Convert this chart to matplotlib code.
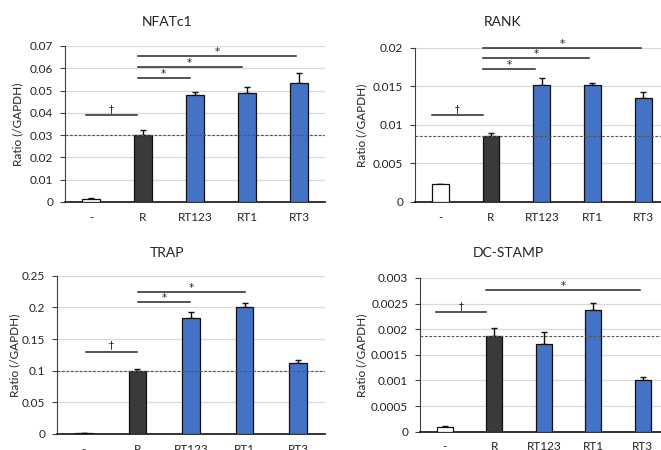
import matplotlib
matplotlib.use("Agg")
import matplotlib.pyplot as plt
from matplotlib.ticker import FuncFormatter, MultipleLocator
from matplotlib.transforms import offset_copy

plt.rcParams['font.family'] = ['Lato', 'DejaVu Sans']

categories = ['-', 'R', 'RT123', 'RT1', 'RT3']
bar_colors = ['#ffffff', '#3a3a3a', '#4472c4', '#4472c4', '#4472c4']

titles = ['NFATc1', 'RANK', 'TRAP', 'DC-STAMP']

nfatc1_vals = [0.0015, 0.0302, 0.0482, 0.0490, 0.0535]
nfatc1_errs = [0.0002, 0.0020, 0.0010, 0.0027, 0.0045]
rank_vals = [0.00228, 0.00855, 0.01522, 0.01512, 0.01350]
rank_errs = [0.00010, 0.00035, 0.00080, 0.00035, 0.00070]
trap_vals = [0.0012, 0.1002, 0.1830, 0.2010, 0.1125]
trap_errs = [0.0005, 0.0025, 0.0090, 0.0060, 0.0045]
dcstamp_vals = [0.00010, 0.00187, 0.00171, 0.00237, 0.00101]
dcstamp_errs = [0.00001, 0.00016, 0.00024, 0.00014, 0.00006]

values = [nfatc1_vals, rank_vals, trap_vals, dcstamp_vals]
errors = [nfatc1_errs, rank_errs, trap_errs, dcstamp_errs]
ymax = [0.07, 0.02, 0.25, 0.003]
ystep = [0.01, 0.005, 0.05, 0.0005]
# reference (dashed) level = R group mean
ref_index = 1

# significance brackets: (x start, x end, y, label)
brackets = [
    [(-0.10, 0.88, 0.0390, '†'), (0.90, 1.90, 0.0555, '*'), (0.90, 2.90, 0.0605, '*'), (0.90, 3.94, 0.0655, '*')],
    [(-0.17, 0.84, 0.0113, '†'), (0.84, 1.87, 0.01724, '*'), (0.84, 2.93, 0.01862, '*'), (0.84, 3.96, 0.0200, '*')],
    [(0.04, 0.99, 0.130, '†'), (1.01, 1.98, 0.208, '*'), (1.01, 3.00, 0.2247, '*')],
    [(-0.18, 0.84, 0.002335, '†'), (0.84, 3.94, 0.00276, '*')],
]

W, H = 661, 450
fig = plt.figure(figsize=(W / 100, H / 100), dpi=100)

# axes rects in pixels: left, top, width, height
rects = [(65, 46, 260, 156), (415, 47.7, 253.5, 154.3), (57, 275.7, 268, 158.3), (420, 278, 247.5, 153.7)]
title_pos = [(167, 22), (503, 22), (167, 253), (508, 253)]
ylabel_x = [18, 362, 15, 362]

txt = '#222222'

def fmt(v, pos):
    return '%g' % round(v, 6)

for k in range(4):
    l, t, w, h = rects[k]
    ax = fig.add_axes([l / W, 1 - (t + h) / H, w / W, h / H])
    x = list(range(len(categories)))
    ax.set_xlim(-0.5, 4.5)
    ax.set_ylim(0, ymax[k])
    ax.yaxis.set_major_locator(MultipleLocator(ystep[k]))
    ax.yaxis.set_major_formatter(FuncFormatter(fmt))
    ax.grid(axis='y', color='#d9d9d9', lw=0.9, zorder=0)
    ax.set_axisbelow(True)
    ax.bar(x, values[k], width=0.33, color=bar_colors, edgecolor='#111111', lw=0.9, zorder=3)
    ax.errorbar(x, values[k], yerr=[[0] * 5, errors[k]], fmt='none', ecolor='#111111',
                elinewidth=1.0, capsize=2.5, capthick=1.0, zorder=2)
    ax.axhline(values[k][ref_index], color='#555555', lw=0.8, ls=(0, (2.5, 1.5)), zorder=4)
    for x0, x1, yy, lab in brackets[k]:
        ax.plot([x0, x1], [yy, yy], color='#262626', lw=1.1, zorder=5, clip_on=False)
        dy = 6 if lab == '†' else 4
        tr = offset_copy(ax.transData, fig=fig, x=0, y=dy, units='dots')
        ax.text((x0 + x1) / 2, yy, lab, ha='center', va='center', transform=tr,
                fontsize=7 if lab == '†' else 7.5, color=txt, zorder=6,
                family=['DejaVu Sans'])
    for sp in ['top', 'right']:
        ax.spines[sp].set_visible(False)
    ax.spines['left'].set_color('#404040')
    ax.spines['left'].set_linewidth(0.8)
    ax.spines['bottom'].set_color('#111111')
    ax.spines['bottom'].set_linewidth(1.2)
    ax.set_xticks(x)
    ax.set_xticklabels(categories)
    ax.tick_params(axis='x', length=0, pad=7, labelsize=8.5, labelcolor=txt)
    ax.tick_params(axis='y', length=3.5, width=0.8, color='#404040', pad=5, labelsize=8.5, labelcolor=txt)
    ax.set_ylabel('Ratio (/GAPDH)', fontsize=8.5, color=txt)
    ax.yaxis.set_label_coords((ylabel_x[k] + 5 - l) / w, 0.5)
    fig.text(title_pos[k][0] / W, 1 - title_pos[k][1] / H, titles[k], ha='center', va='center',
             fontsize=10, color=txt)

fig.savefig('out.png', dpi=100)
